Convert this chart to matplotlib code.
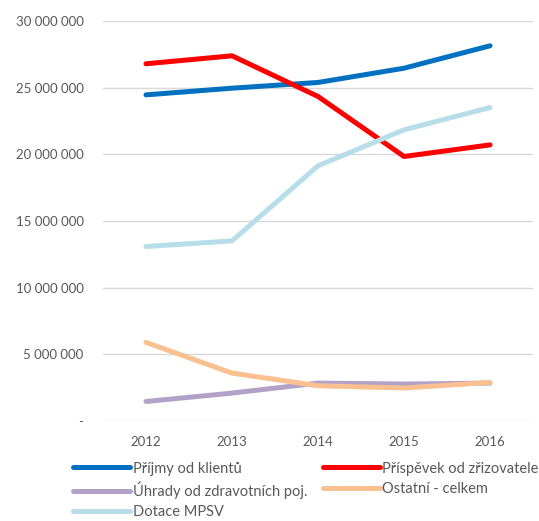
import matplotlib
matplotlib.use('Agg')
import matplotlib.pyplot as plt
from matplotlib.ticker import FuncFormatter

plt.rcParams['font.family'] = ['Lato', 'DejaVu Sans']

years = ['2012', '2013', '2014', '2015', '2016']
prijmy = [24450000, 24950000, 25380000, 26450000, 28130000]
prispevek = [26780000, 27380000, 24330000, 19830000, 20700000]
uhrady = [1460000, 2090000, 2840000, 2770000, 2840000]
ostatni = [5890000, 3590000, 2640000, 2470000, 2890000]
dotace = [13080000, 13500000, 19130000, 21830000, 23500000]

names = ['Příjmy od klientů', 'Příspěvek od zřizovatele', 'Úhrady od zdravotních poj.',
         'Ostatní - celkem', 'Dotace MPSV']
colors = ['#0070C0', '#FF0000', '#B3A2C7', '#FAC090', '#B7DEE8']
series = [prijmy, prispevek, uhrady, ostatni, dotace]

fig = plt.figure(figsize=(5.39, 5.21), dpi=100)
ax = fig.add_axes([0.191, 0.192, 0.798, 0.768])

x = range(len(years))
lines = []
for vals, c, n in zip(series, colors, names):
    l, = ax.plot(x, vals, color=c, lw=3.6, label=n, solid_capstyle='round', solid_joinstyle='round')
    lines.append(l)

ax.set_xlim(-0.5, len(years) - 0.5)
ax.set_ylim(0, 30000000)
ax.set_yticks(range(0, 30000001, 5000000))
ax.set_xticks(list(x))
ax.set_xticklabels(years)

def fmt(v, pos):
    if v == 0:
        return '-'
    return f'{int(v):,}'.replace(',', ' ')

ax.yaxis.set_major_formatter(FuncFormatter(fmt))
ax.grid(axis='y', color='#D9D9D9', lw=1)
ax.set_axisbelow(True)
for s in ax.spines.values():
    s.set_visible(False)
ax.tick_params(length=0, colors='#595959', labelsize=9.5)
ax.tick_params(axis='y', pad=14)
ax.tick_params(axis='x', pad=11)

order = [0, 2, 4, 1, 3]
leg = fig.legend([lines[i] for i in order], [names[i] for i in order], ncol=2,
                 loc='lower left', bbox_to_anchor=(0.112, -0.022), frameon=False,
                 fontsize=10.5, handlelength=3.9, handletextpad=0.15, columnspacing=1.1,
                 labelspacing=0.42)
for t in leg.get_texts():
    t.set_color('#595959')

fig.savefig('out.png', dpi=100)
